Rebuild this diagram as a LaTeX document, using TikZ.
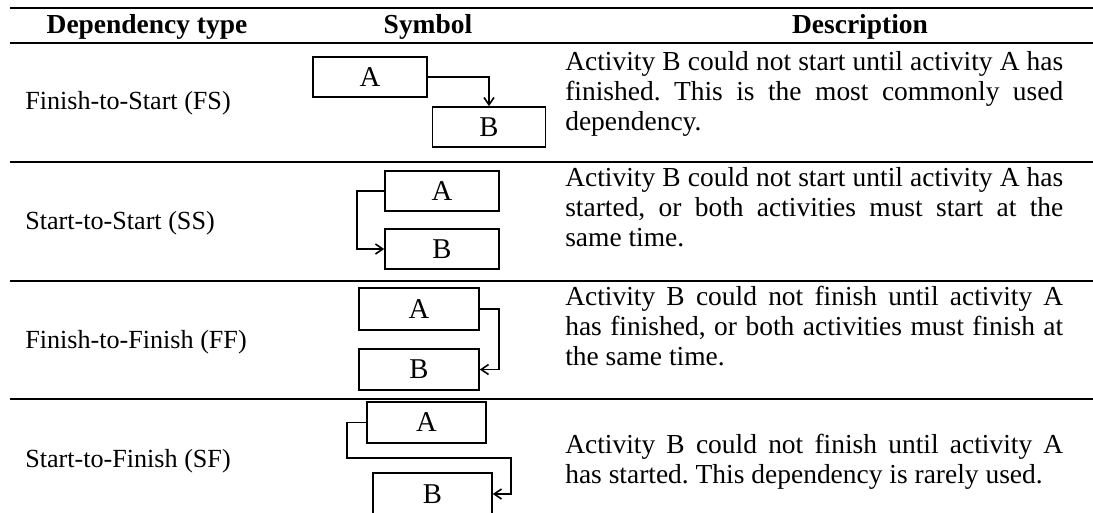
\documentclass[tikz,border=0pt]{standalone}
\usepackage{fontspec}
\setmainfont{Liberation Serif}
\usetikzlibrary{arrows.meta}
\newcommand{\jl}[1]{\makebox[373.5pt][s]{#1}}
\frenchspacing
\begin{document}
\begin{tikzpicture}[x=0.75pt,y=-0.75pt,
  txt/.style={inner sep=0pt, font=\fontsize{20.6}{22.5}\selectfont},
  lbl/.style={inner sep=0pt, font=\fontsize{19.6}{22.5}\selectfont},
  hdr/.style={inner sep=0pt, font=\fontsize{20.6}{22.5}\selectfont\bfseries},
  box/.style={draw, line width=1.2pt, inner sep=0pt, font=\fontsize{21.5}{22.5}\selectfont},
  link/.style={line width=1.2pt, -{Straight Barb[length=5.5pt,width=7.5pt]}},
  rulethin/.style={line width=1.3pt},
  rulethick/.style={line width=1.9pt}]
\useasboundingbox (0,0) rectangle (1093,512);
% table rules
\draw[rulethick] (10,8) -- (1093,8);
\draw[rulethin] (10,43) -- (1093,43);
\draw[rulethin] (10,162) -- (1093,162);
\draw[rulethin] (10,281) -- (1093,281);
\draw[rulethin] (10,399) -- (1093,399);
% headers
\node[hdr, anchor=base] (h1) at (147,33) {Dependency type};
\node[hdr, anchor=base] (h2) at (428,33) {Symbol};
\node[hdr, anchor=base] (h3) at (860,33) {Description};
% type labels
\node[lbl, anchor=base west] (t1) at (25,109) {Finish-to-Start (FS)};
\node[lbl, anchor=base west] (t2) at (25,229) {Start-to-Start (SS)};
\node[lbl, anchor=base west] (t3) at (25,348) {Finish-to-Finish (FF)};
\node[lbl, anchor=base west] (t4) at (25,467) {Start-to-Finish (SF)};
% descriptions
\node[txt, anchor=base west] (d11) at (565,70) {\jl{Activity B could not start until activity A has}};
\node[txt, anchor=base west] (d12) at (565,100) {\jl{finished. This is the most commonly used}};
\node[txt, anchor=base west] (d13) at (565,130) {dependency.};
\node[txt, anchor=base west] (d21) at (565,186) {\jl{Activity B could not start until activity A has}};
\node[txt, anchor=base west] (d22) at (565,216) {\jl{started, or both activities must start at the}};
\node[txt, anchor=base west] (d23) at (565,246) {same time.};
\node[txt, anchor=base west] (d31) at (565,305) {\jl{Activity B could not finish until activity A}};
\node[txt, anchor=base west] (d32) at (565,335) {\jl{has finished, or both activities must finish at}};
\node[txt, anchor=base west] (d33) at (565,365) {the same time.};
\node[txt, anchor=base west] (d41) at (565,453) {\jl{Activity B could not finish until activity A}};
\node[txt, anchor=base west] (d42) at (565,483) {has started. This dependency is rarely used.};
% FS symbol
\node[box, minimum width=85.5pt, minimum height=30pt] (fsA) at (370,77) {A};
\node[box, minimum width=84.75pt, minimum height=30pt] (fsB) at (489,127) {B};
\draw[link] (fsA.east) -| (fsB.north);
% SS symbol
\node[box, minimum width=85.5pt, minimum height=30pt] (ssA) at (442,191) {A};
\node[box, minimum width=85.5pt, minimum height=30pt] (ssB) at (442,249) {B};
\draw[link] (ssA.west) -- ++(-27,0) |- (ssB.west);
% FF symbol
\node[box, minimum width=90pt, minimum height=31.5pt] (ffA) at (419,309) {A};
\node[box, minimum width=90pt, minimum height=30.75pt] (ffB) at (419,369.5) {B};
\draw[link] (ffA.east) -- ++(19,0) |- (ffB.east);
% SF symbol
\node[box, minimum width=89.25pt, minimum height=30.75pt] (sfA) at (426.5,422.5) {A};
\node[box, minimum width=89.25pt, minimum height=31.5pt] (sfB) at (432.5,494) {B};
\coordinate (sfR) at (511,458);
\draw[link] (sfA.west) -- ++(-19,0) |- (sfR) |- (sfB.east);
\end{tikzpicture}
\end{document}
